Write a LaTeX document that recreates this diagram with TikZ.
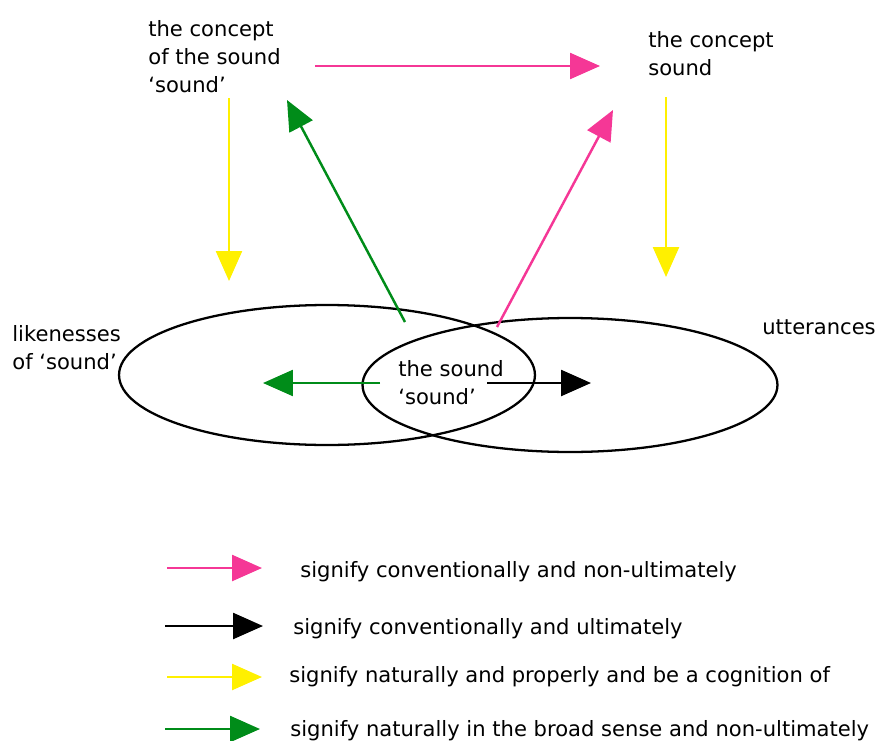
\documentclass[tikz,border=0pt]{standalone}
\usepackage{fontspec}
\setmainfont{DejaVu Sans}
\usetikzlibrary{arrows.meta,shapes.geometric}
\definecolor{signPink}{RGB}{245,55,150}
\definecolor{signYellow}{RGB}{255,240,0}
\definecolor{signGreen}{RGB}{0,140,25}
\tikzset{%
    >={Triangle[width=0.52cm,length=0.6cm]},
    txt/.style = {inner sep=0pt, align=left, font=\fontsize{12}{16}\selectfont},
    region/.style = {ellipse, draw=black, line width=1.3pt, inner sep=0pt},
    convNon/.style = {->, color=signPink, line width=1.4pt},
    convUlt/.style = {->, color=black, line width=1.4pt},
    natProper/.style = {->, color=signYellow, line width=1.4pt},
    natBroad/.style = {->, color=signGreen, line width=1.4pt},
}

\begin{document}
\begin{tikzpicture}[x=0.02cm, y=-0.02cm]
        \useasboundingbox (0,0) rectangle (875,740);
        % Nodes position
        \node (conceptSound)   [txt, anchor=north west] at (148,20)
                                {the concept\\of the sound\\‘sound’};
        \node (concept)        [txt, anchor=north west] at (648,31)
                                {the concept\\sound};
        \node (likeness)       [region, minimum width=8.32cm, minimum height=2.8cm]
                                at (327,375) {};
        \node (utterance)      [region, minimum width=8.3cm, minimum height=2.68cm]
                                at (570,385) {};
        \node (sound)          [txt, anchor=north west] at (398,360)
                                {the sound\\‘sound’};
        \node (likenessLabel)  [txt, anchor=north west] at (12,325)
                                {likenesses\\of ‘sound’};
        \node (utteranceLabel) [txt, anchor=north west] at (762,319)
                                {utterances};

        % Legend
        \node (legPink)   [txt, anchor=base west] at (300,577)
                            {signify conventionally and non-ultimately};
        \node (legBlack)  [txt, anchor=base west] at (293,634)
                            {signify conventionally and ultimately};
        \node (legYellow) [txt, anchor=base west] at (289,682)
                            {signify naturally and properly and be a cognition of};
        \node (legGreen)  [txt, anchor=base west] at (290,736)
                            {signify naturally in the broad sense and non-ultimately};

        % Arrow ends
        \coordinate (csOut)     at (315,66);
        \coordinate (cIn)       at (600,66);
        \coordinate (csDown)    at (229,98);
        \coordinate (likeTop)   at (229,281);
        \coordinate (cDown)     at (666,97);
        \coordinate (uttTop)    at (666,277);
        \coordinate (greenFoot) at (405,322);
        \coordinate (greenTip)  at (287,100);
        \coordinate (pinkFoot)  at (497,327);
        \coordinate (pinkTip)   at (613,110);
        \coordinate (soundW)    at (380,383);
        \coordinate (likeIn)    at (263,383);
        \coordinate (soundE)    at (487,383);
        \coordinate (uttIn)     at (591,383);

        % Arrow specification
        \draw[convNon]   (csOut) -- (cIn);
        \draw[natProper] (csDown) -- (likeTop);
        \draw[natProper] (cDown) -- (uttTop);
        \draw[natBroad]  (greenFoot) -- (greenTip);
        \draw[convNon]   (pinkFoot) -- (pinkTip);
        \draw[natBroad]  (soundW) -- (likeIn);
        \draw[convUlt]   (soundE) -- (uttIn);

        % Legend arrows
        \draw[convNon]   (167,568) -- (262,568);
        \draw[convUlt]   (165,626) -- (263,626);
        \draw[natProper] (167,677) -- (262,677);
        \draw[natBroad]  (165,729) -- (260,729);
    \end{tikzpicture}
\end{document}
